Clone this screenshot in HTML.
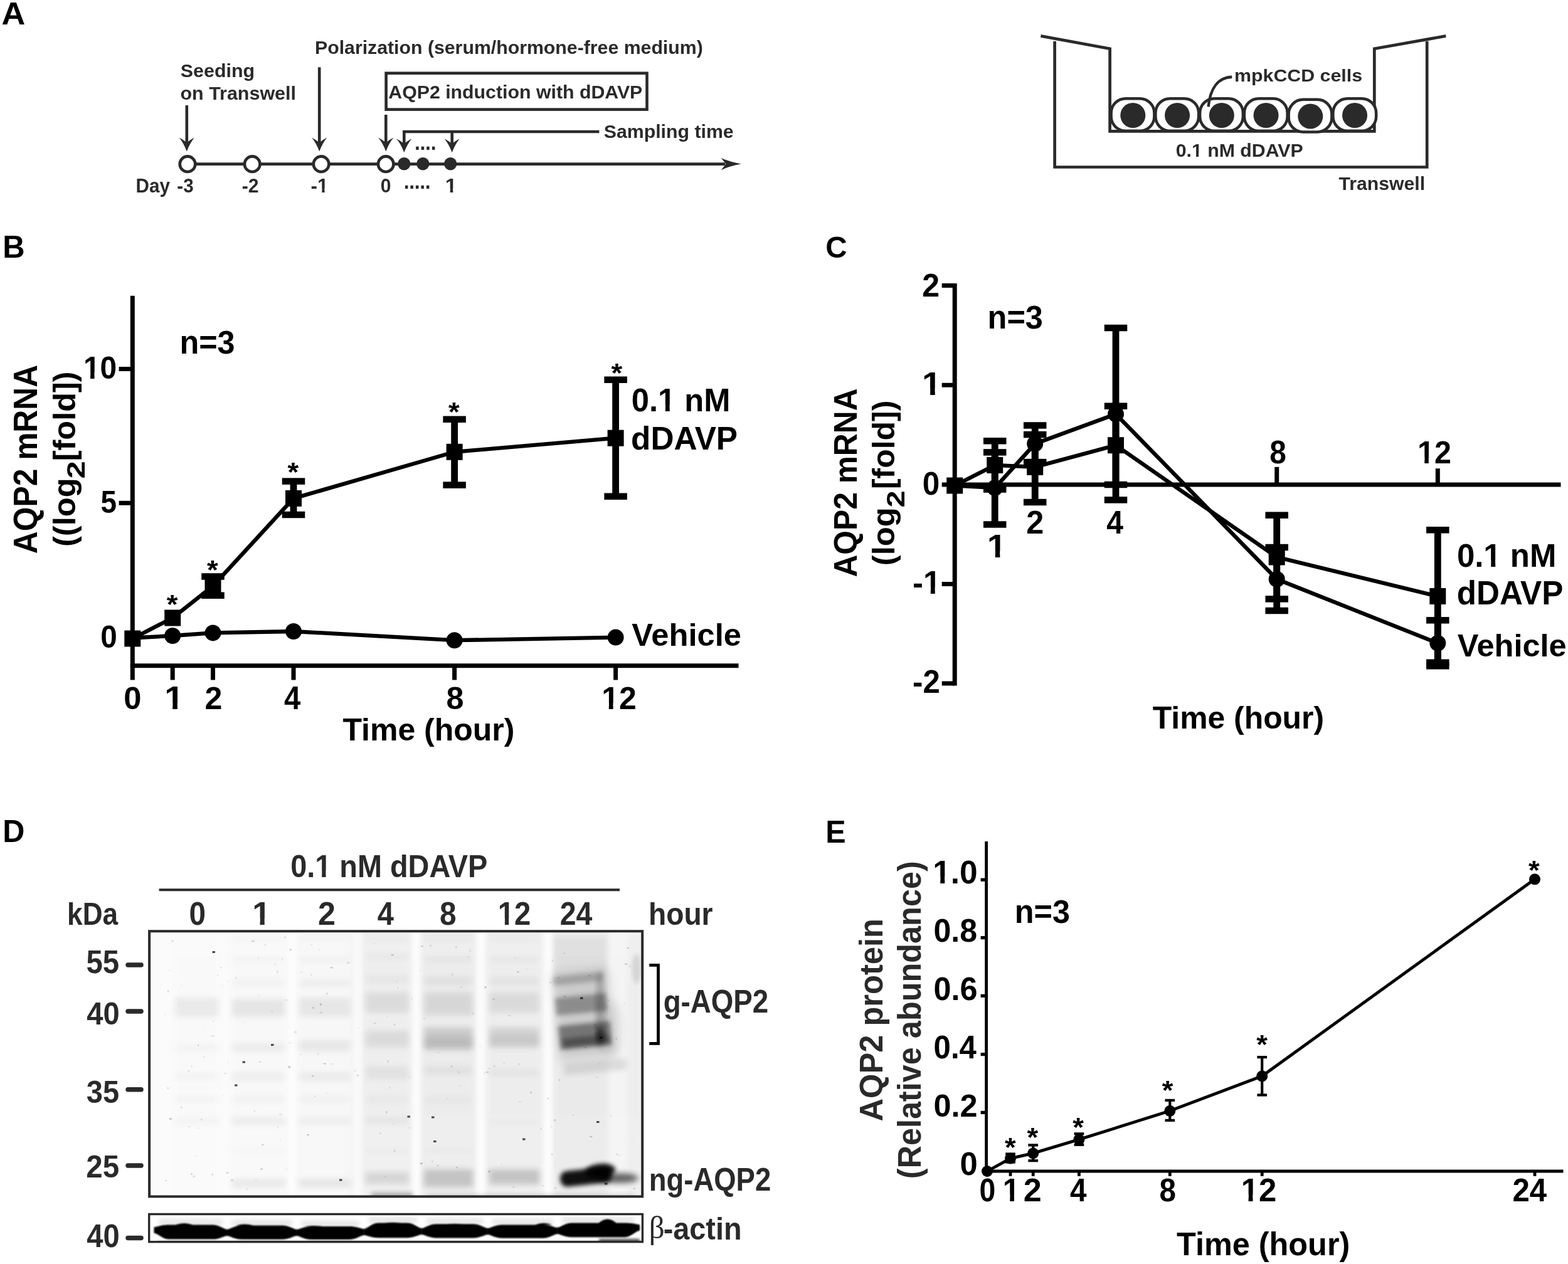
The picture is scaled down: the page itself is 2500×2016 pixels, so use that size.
<!DOCTYPE html>
<html lang="en">
<head>
<meta charset="utf-8">
<title>AQP2 induction time course with dDAVP in mpkCCD cells</title>
<style>
html,body{margin:0;padding:0;background:#fff;}
body{width:2500px;height:2016px;overflow:hidden;font-family:'Liberation Sans', Arial, Helvetica, sans-serif;}
svg{display:block;}
text{white-space:pre;}
</style>
</head>
<body>
<svg xmlns="http://www.w3.org/2000/svg" width="2500" height="2016" viewBox="0 0 2500 2016">
<rect x="0" y="0" width="2500" height="2016" fill="#fff"/>
<defs>
<filter id="b1" x="-5%" y="-30%" width="110%" height="160%"><feGaussianBlur stdDeviation="1.1"/></filter>
<filter id="b2" x="-20%" y="-50%" width="140%" height="200%"><feGaussianBlur stdDeviation="2"/></filter>
<filter id="b3" x="-20%" y="-80%" width="140%" height="260%"><feGaussianBlur stdDeviation="3.5"/></filter>
<filter id="b5" x="-30%" y="-100%" width="160%" height="300%"><feGaussianBlur stdDeviation="5"/></filter>
<filter id="b8" x="-30%" y="-100%" width="160%" height="300%"><feGaussianBlur stdDeviation="8"/></filter>
<filter id="bv" x="-200%" y="-5%" width="500%" height="110%"><feGaussianBlur stdDeviation="5 2"/></filter>
<clipPath id="blotclip"><rect x="238" y="1485.2" width="786.2" height="423.2"/></clipPath>
<clipPath id="actclip"><rect x="237.6" y="1936.5" width="786.8" height="44.2"/></clipPath>
</defs>
<text transform="translate(2.60,39.00) scale(1.0343,1)" font-family="'Liberation Sans', Arial, Helvetica, sans-serif" font-weight="bold" font-size="50.58" fill="#000">A</text>
<text transform="translate(4.22,410.90) scale(0.9834,1)" font-family="'Liberation Sans', Arial, Helvetica, sans-serif" font-weight="bold" font-size="49.86" fill="#000">B</text>
<text transform="translate(1316.15,410.82) scale(0.9706,1)" font-family="'Liberation Sans', Arial, Helvetica, sans-serif" font-weight="bold" font-size="49.01" fill="#000">C</text>
<text transform="translate(4.15,1343.30) scale(0.9634,1)" font-family="'Liberation Sans', Arial, Helvetica, sans-serif" font-weight="bold" font-size="50.44" fill="#000">D</text>
<text transform="translate(1316.36,1343.70) scale(0.9612,1)" font-family="'Liberation Sans', Arial, Helvetica, sans-serif" font-weight="bold" font-size="50.44" fill="#000">E</text>
<line x1="299" y1="261.6" x2="1156" y2="261.6" stroke="#2a2a2a" stroke-width="4.6" stroke-linecap="butt"/>
<path d="M1181.6,261.6 Q1164,258.40000000000003 1149.6,252.00000000000003 Q1154.5,257.6 1157.2,261.6 Q1154.5,265.6 1149.6,271.20000000000005 Q1164,264.8 1181.6,261.6 Z" fill="#2a2a2a"/>
<circle cx="299.00" cy="261.70" r="12.30" fill="#fff" stroke="#2a2a2a" stroke-width="4.6"/>
<circle cx="402.20" cy="261.70" r="12.30" fill="#fff" stroke="#2a2a2a" stroke-width="4.6"/>
<circle cx="512.10" cy="261.70" r="12.30" fill="#fff" stroke="#2a2a2a" stroke-width="4.6"/>
<circle cx="615.20" cy="261.70" r="12.30" fill="#fff" stroke="#2a2a2a" stroke-width="4.6"/>
<circle cx="644.30" cy="261.20" r="10.20" fill="#2a2a2a"/>
<circle cx="674.30" cy="261.20" r="10.20" fill="#2a2a2a"/>
<circle cx="718.20" cy="261.20" r="10.20" fill="#2a2a2a"/>
<line x1="297.8" y1="168" x2="297.8" y2="229.6" stroke="#2a2a2a" stroke-width="4.6" stroke-linecap="butt"/>
<path d="M297.80,241.60 Q292.68,227.96 285.60,219.60 Q292.92,223.20 297.80,227.60 Q302.68,223.20 310.00,219.60 Q302.92,227.96 297.80,241.60 Z" fill="#2a2a2a"/>
<line x1="509.2" y1="107.3" x2="509.2" y2="229.6" stroke="#2a2a2a" stroke-width="4.6" stroke-linecap="butt"/>
<path d="M509.20,241.60 Q504.08,227.96 497.00,219.60 Q504.32,223.20 509.20,227.60 Q514.08,223.20 521.40,219.60 Q514.32,227.96 509.20,241.60 Z" fill="#2a2a2a"/>
<line x1="615.3" y1="183" x2="615.3" y2="229.6" stroke="#2a2a2a" stroke-width="4.6" stroke-linecap="butt"/>
<path d="M615.30,241.60 Q610.18,227.96 603.10,219.60 Q610.42,223.20 615.30,227.60 Q620.18,223.20 627.50,219.60 Q620.42,227.96 615.30,241.60 Z" fill="#2a2a2a"/>
<line x1="644.3" y1="210" x2="644.3" y2="231.2" stroke="#2a2a2a" stroke-width="4.6" stroke-linecap="butt"/>
<path d="M644.30,243.20 Q639.18,229.56 632.10,221.20 Q639.42,224.80 644.30,229.20 Q649.18,224.80 656.50,221.20 Q649.42,229.56 644.30,243.20 Z" fill="#2a2a2a"/>
<line x1="720.7" y1="210" x2="720.7" y2="231.2" stroke="#2a2a2a" stroke-width="4.6" stroke-linecap="butt"/>
<path d="M720.70,243.20 Q715.58,229.56 708.50,221.20 Q715.82,224.80 720.70,229.20 Q725.58,224.80 732.90,221.20 Q725.82,229.56 720.70,243.20 Z" fill="#2a2a2a"/>
<line x1="642.0" y1="210" x2="955.4" y2="210" stroke="#2a2a2a" stroke-width="4.6" stroke-linecap="butt"/>
<rect x="615.60" y="116.70" width="415.90" height="57.90" fill="none" stroke="#2a2a2a" stroke-width="4.6" />
<text transform="translate(501.97,85.50) scale(1.0018,1)" font-family="'Liberation Sans', Arial, Helvetica, sans-serif" font-weight="bold" font-size="30.22" fill="#2a2a2a">Polarization (serum/hormone-free medium)</text>
<text transform="translate(287.82,123.20) scale(1.0299,1)" font-family="'Liberation Sans', Arial, Helvetica, sans-serif" font-weight="bold" font-size="29.53" fill="#2a2a2a">Seeding</text>
<text transform="translate(287.51,159.30) scale(1.0122,1)" font-family="'Liberation Sans', Arial, Helvetica, sans-serif" font-weight="bold" font-size="30.09" fill="#2a2a2a">on Transwell</text>
<text transform="translate(619.25,157.40) scale(1.0073,1)" font-family="'Liberation Sans', Arial, Helvetica, sans-serif" font-weight="bold" font-size="30.09" fill="#2a2a2a">AQP2 induction with dDAVP</text>
<text transform="translate(962.73,219.80) scale(1.0208,1)" font-family="'Liberation Sans', Arial, Helvetica, sans-serif" font-weight="bold" font-size="29.67" fill="#2a2a2a">Sampling time</text>
<text transform="translate(216.51,306.80) scale(0.9497,1)" font-family="'Liberation Sans', Arial, Helvetica, sans-serif" font-weight="bold" font-size="31.25" fill="#2a2a2a">Day</text>
<text transform="translate(282.34,306.65) scale(0.9592,1)" font-family="'Liberation Sans', Arial, Helvetica, sans-serif" font-weight="bold" font-size="30.87" fill="#2a2a2a">-3</text>
<text transform="translate(385.72,306.80) scale(0.9692,1)" font-family="'Liberation Sans', Arial, Helvetica, sans-serif" font-weight="bold" font-size="31.08" fill="#2a2a2a">-2</text>
<g transform="translate(495.58,306.80) scale(0.9923,1)"><text font-family="'Liberation Sans', Arial, Helvetica, sans-serif" font-weight="bold" font-size="31.54" fill="#2a2a2a">-1</text><rect x="11.45" y="-6.31" width="6.42" height="7.89" fill="#fff"/><rect x="22.16" y="-6.31" width="6.01" height="7.89" fill="#fff"/></g>
<text transform="translate(606.71,306.70) scale(0.9721,1)" font-family="'Liberation Sans', Arial, Helvetica, sans-serif" font-weight="bold" font-size="30.93" fill="#2a2a2a">0</text>
<g transform="translate(709.77,306.80) scale(1.0719,1)"><text font-family="'Liberation Sans', Arial, Helvetica, sans-serif" font-weight="bold" font-size="31.54" fill="#2a2a2a">1</text><rect x="0.95" y="-6.31" width="6.42" height="7.89" fill="#fff"/><rect x="11.65" y="-6.31" width="6.01" height="7.89" fill="#fff"/></g>
<text transform="translate(661.04,239.40) scale(0.9133,1)" font-family="'Liberation Sans', Arial, Helvetica, sans-serif" font-weight="bold" font-size="34.92" fill="#2a2a2a">.</text>
<text transform="translate(669.57,239.40) scale(0.9133,1)" font-family="'Liberation Sans', Arial, Helvetica, sans-serif" font-weight="bold" font-size="34.92" fill="#2a2a2a">.</text>
<text transform="translate(678.10,239.40) scale(0.9133,1)" font-family="'Liberation Sans', Arial, Helvetica, sans-serif" font-weight="bold" font-size="34.92" fill="#2a2a2a">.</text>
<text transform="translate(686.64,239.40) scale(0.9133,1)" font-family="'Liberation Sans', Arial, Helvetica, sans-serif" font-weight="bold" font-size="34.92" fill="#2a2a2a">.</text>
<text transform="translate(643.74,301.40) scale(0.9133,1)" font-family="'Liberation Sans', Arial, Helvetica, sans-serif" font-weight="bold" font-size="34.92" fill="#2a2a2a">.</text>
<text transform="translate(652.26,301.40) scale(0.9133,1)" font-family="'Liberation Sans', Arial, Helvetica, sans-serif" font-weight="bold" font-size="34.92" fill="#2a2a2a">.</text>
<text transform="translate(660.79,301.40) scale(0.9133,1)" font-family="'Liberation Sans', Arial, Helvetica, sans-serif" font-weight="bold" font-size="34.92" fill="#2a2a2a">.</text>
<text transform="translate(669.31,301.40) scale(0.9133,1)" font-family="'Liberation Sans', Arial, Helvetica, sans-serif" font-weight="bold" font-size="34.92" fill="#2a2a2a">.</text>
<text transform="translate(677.84,301.40) scale(0.9133,1)" font-family="'Liberation Sans', Arial, Helvetica, sans-serif" font-weight="bold" font-size="34.92" fill="#2a2a2a">.</text>
<polyline points="1681.60,65.80 1681.60,266.50 2275.20,266.50 2275.20,65.80" fill="none" stroke="#2a2a2a" stroke-width="4.7" stroke-linejoin="miter"/>
<polyline points="1659.40,57.40 1769.60,77.80 1769.60,209.30 2191.30,209.30 2191.30,77.80 2305.30,57.40" fill="none" stroke="#2a2a2a" stroke-width="4.7" stroke-linejoin="miter"/>
<rect x="1771.60" y="157.20" width="68.80" height="51.60" fill="#fff" stroke="#2a2a2a" stroke-width="4.5" rx="23" />
<circle cx="1806.30" cy="184.00" r="20.00" fill="#2a2a2a"/>
<rect x="1842.35" y="157.20" width="68.80" height="51.60" fill="#fff" stroke="#2a2a2a" stroke-width="4.5" rx="23" />
<circle cx="1877.05" cy="184.00" r="20.00" fill="#2a2a2a"/>
<rect x="1913.10" y="157.20" width="68.80" height="51.60" fill="#fff" stroke="#2a2a2a" stroke-width="4.5" rx="23" />
<circle cx="1947.80" cy="184.00" r="20.00" fill="#2a2a2a"/>
<rect x="1983.85" y="157.20" width="68.80" height="51.60" fill="#fff" stroke="#2a2a2a" stroke-width="4.5" rx="23" />
<circle cx="2018.55" cy="184.00" r="20.00" fill="#2a2a2a"/>
<rect x="2054.60" y="158.80" width="68.80" height="51.60" fill="#fff" stroke="#2a2a2a" stroke-width="4.5" rx="23" />
<circle cx="2089.30" cy="185.60" r="20.00" fill="#2a2a2a"/>
<rect x="2125.35" y="157.20" width="68.80" height="51.60" fill="#fff" stroke="#2a2a2a" stroke-width="4.5" rx="23" />
<circle cx="2160.05" cy="184.00" r="20.00" fill="#2a2a2a"/>
<path d="M1964.2,122.8 C1942,123.5 1929.5,141 1926.6,170.2" fill="none" stroke="#2a2a2a" stroke-width="4.4"/>
<text transform="translate(1968.00,130.30) scale(1.0627,1)" font-family="'Liberation Sans', Arial, Helvetica, sans-serif" font-weight="bold" font-size="28.57" fill="#2a2a2a">mpkCCD cells</text>
<g transform="translate(1874.70,249.50) scale(1.0159,1)"><text font-family="'Liberation Sans', Arial, Helvetica, sans-serif" font-weight="bold" font-size="29.81" fill="#2a2a2a">0.1 nM dDAVP</text><rect x="25.75" y="-5.96" width="6.07" height="7.45" fill="#fff"/><rect x="35.87" y="-5.96" width="5.68" height="7.45" fill="#fff"/></g>
<text transform="translate(2134.56,303.40) scale(1.0508,1)" font-family="'Liberation Sans', Arial, Helvetica, sans-serif" font-weight="bold" font-size="28.71" fill="#2a2a2a">Transwell</text>
<line x1="211.3" y1="471.7" x2="211.3" y2="1084.5" stroke="#000" stroke-width="7.0" stroke-linecap="butt"/>
<line x1="207.8" y1="1061.8" x2="1177.5" y2="1061.8" stroke="#000" stroke-width="7.0" stroke-linecap="butt"/>
<line x1="189.6" y1="588.5" x2="211.3" y2="588.5" stroke="#000" stroke-width="7.0" stroke-linecap="butt"/>
<line x1="189.6" y1="802.3" x2="211.3" y2="802.3" stroke="#000" stroke-width="7.0" stroke-linecap="butt"/>
<line x1="275.2" y1="1061.8" x2="275.2" y2="1084.5" stroke="#000" stroke-width="7.0" stroke-linecap="butt"/>
<line x1="339.5" y1="1061.8" x2="339.5" y2="1084.5" stroke="#000" stroke-width="7.0" stroke-linecap="butt"/>
<line x1="468.0" y1="1061.8" x2="468.0" y2="1084.5" stroke="#000" stroke-width="7.0" stroke-linecap="butt"/>
<line x1="724.6" y1="1061.8" x2="724.6" y2="1084.5" stroke="#000" stroke-width="7.0" stroke-linecap="butt"/>
<line x1="981.6" y1="1061.8" x2="981.6" y2="1084.5" stroke="#000" stroke-width="7.0" stroke-linecap="butt"/>
<polyline points="211.30,1017.50 275.20,1014.00 339.50,1009.40 468.00,1007.00 724.60,1021.20 981.60,1016.60" fill="none" stroke="#000" stroke-width="6.3" stroke-linejoin="miter"/>
<polyline points="211.30,1018.50 275.20,985.50 339.50,934.60 468.00,794.90 724.60,720.80 981.60,698.70" fill="none" stroke="#000" stroke-width="6.3" stroke-linejoin="miter"/>
<circle cx="275.20" cy="1014.00" r="13.00" fill="#000"/>
<circle cx="339.50" cy="1009.40" r="13.00" fill="#000"/>
<circle cx="468.00" cy="1007.00" r="13.00" fill="#000"/>
<circle cx="724.60" cy="1021.20" r="13.00" fill="#000"/>
<circle cx="981.60" cy="1016.60" r="13.00" fill="#000"/>
<rect x="334.10" y="919.50" width="10.80" height="30.20" fill="#000" />
<rect x="321.25" y="914.25" width="36.50" height="10.50" fill="#000" />
<rect x="321.25" y="944.45" width="36.50" height="10.50" fill="#000" />
<rect x="462.60" y="767.60" width="10.80" height="53.40" fill="#000" />
<rect x="449.75" y="762.35" width="36.50" height="10.50" fill="#000" />
<rect x="449.75" y="815.75" width="36.50" height="10.50" fill="#000" />
<rect x="719.20" y="668.80" width="10.80" height="104.80" fill="#000" />
<rect x="706.35" y="663.55" width="36.50" height="10.50" fill="#000" />
<rect x="706.35" y="768.35" width="36.50" height="10.50" fill="#000" />
<rect x="976.20" y="605.70" width="10.80" height="186.00" fill="#000" />
<rect x="963.35" y="600.45" width="36.50" height="10.50" fill="#000" />
<rect x="963.35" y="786.45" width="36.50" height="10.50" fill="#000" />
<rect x="198.30" y="1005.50" width="26.00" height="26.00" fill="#000" />
<rect x="262.20" y="972.50" width="26.00" height="26.00" fill="#000" />
<rect x="326.50" y="921.60" width="26.00" height="26.00" fill="#000" />
<rect x="455.00" y="781.90" width="26.00" height="26.00" fill="#000" />
<rect x="711.60" y="707.80" width="26.00" height="26.00" fill="#000" />
<rect x="968.60" y="685.70" width="26.00" height="26.00" fill="#000" />
<text transform="translate(265.82,978.02) scale(1.0498,1)" font-family="'Liberation Sans', Arial, Helvetica, sans-serif" font-weight="bold" font-size="43.27" fill="#000">*</text>
<text transform="translate(330.02,922.72) scale(1.0498,1)" font-family="'Liberation Sans', Arial, Helvetica, sans-serif" font-weight="bold" font-size="43.27" fill="#000">*</text>
<text transform="translate(458.42,767.12) scale(1.0498,1)" font-family="'Liberation Sans', Arial, Helvetica, sans-serif" font-weight="bold" font-size="43.27" fill="#000">*</text>
<text transform="translate(715.12,671.32) scale(1.0498,1)" font-family="'Liberation Sans', Arial, Helvetica, sans-serif" font-weight="bold" font-size="43.27" fill="#000">*</text>
<text transform="translate(974.62,609.02) scale(1.0498,1)" font-family="'Liberation Sans', Arial, Helvetica, sans-serif" font-weight="bold" font-size="43.27" fill="#000">*</text>
<g transform="translate(132.88,604.01) scale(0.9608,1)"><text font-family="'Liberation Sans', Arial, Helvetica, sans-serif" font-weight="bold" font-size="49.86" fill="#000">10</text><rect x="1.50" y="-9.97" width="10.15" height="12.46" fill="#fff"/><rect x="18.42" y="-9.97" width="9.50" height="12.46" fill="#fff"/></g>
<text transform="translate(160.59,818.41) scale(0.9214,1)" font-family="'Liberation Sans', Arial, Helvetica, sans-serif" font-weight="bold" font-size="49.73" fill="#000">5</text>
<text transform="translate(160.21,1032.52) scale(0.9655,1)" font-family="'Liberation Sans', Arial, Helvetica, sans-serif" font-weight="bold" font-size="49.43" fill="#000">0</text>
<text transform="translate(197.30,1131.11) scale(1.0078,1)" font-family="'Liberation Sans', Arial, Helvetica, sans-serif" font-weight="bold" font-size="50.28" fill="#000">0</text>
<g transform="translate(262.18,1131.10) scale(1.0960,1)"><text font-family="'Liberation Sans', Arial, Helvetica, sans-serif" font-weight="bold" font-size="51.02" fill="#000">1</text><rect x="1.53" y="-10.20" width="10.38" height="12.75" fill="#fff"/><rect x="18.85" y="-10.20" width="9.72" height="12.75" fill="#fff"/></g>
<text transform="translate(326.46,1131.10) scale(0.9958,1)" font-family="'Liberation Sans', Arial, Helvetica, sans-serif" font-weight="bold" font-size="50.27" fill="#000">2</text>
<text transform="translate(453.09,1131.10) scale(0.9258,1)" font-family="'Liberation Sans', Arial, Helvetica, sans-serif" font-weight="bold" font-size="51.02" fill="#000">4</text>
<text transform="translate(711.61,1131.11) scale(0.9991,1)" font-family="'Liberation Sans', Arial, Helvetica, sans-serif" font-weight="bold" font-size="50.28" fill="#000">8</text>
<g transform="translate(959.15,1131.10) scale(0.9934,1)"><text font-family="'Liberation Sans', Arial, Helvetica, sans-serif" font-weight="bold" font-size="50.27" fill="#000">12</text><rect x="1.51" y="-10.05" width="10.23" height="12.57" fill="#fff"/><rect x="18.57" y="-10.05" width="9.58" height="12.57" fill="#fff"/></g>
<text transform="translate(546.44,1181.40) scale(1.0035,1)" font-family="'Liberation Sans', Arial, Helvetica, sans-serif" font-weight="bold" font-size="49.82" fill="#000">Time (hour)</text>
<text transform="translate(286.38,564.41) scale(0.9637,1)" font-family="'Liberation Sans', Arial, Helvetica, sans-serif" font-weight="bold" font-size="52.29" fill="#000">n=3</text>
<g transform="translate(1006.80,656.49) scale(0.9613,1)"><text font-family="'Liberation Sans', Arial, Helvetica, sans-serif" font-weight="bold" font-size="52.68" fill="#000">0.1 nM</text><rect x="45.52" y="-10.54" width="10.72" height="13.17" fill="#fff"/><rect x="63.40" y="-10.54" width="10.04" height="13.17" fill="#fff"/></g>
<text transform="translate(1006.10,716.60) scale(0.9744,1)" font-family="'Liberation Sans', Arial, Helvetica, sans-serif" font-weight="bold" font-size="52.62" fill="#000">dDAVP</text>
<text transform="translate(1007.25,1030.40) scale(0.9985,1)" font-family="'Liberation Sans', Arial, Helvetica, sans-serif" font-weight="bold" font-size="50.79" fill="#000">Vehicle</text>
<text transform="translate(59.40,883.14) rotate(-90) scale(0.9415,1)" font-family="'Liberation Sans', Arial, Helvetica, sans-serif" font-weight="bold" font-size="52.85" fill="#000">AQP2 mRNA</text>
<text transform="translate(119.50,872.02) rotate(-90) scale(1.0141,1)" font-family="'Liberation Sans', Arial, Helvetica, sans-serif" font-weight="bold" font-size="49.96" fill="#000">((log</text>
<text transform="translate(135.20,763.56) rotate(-90) scale(1.2511,1)" font-family="'Liberation Sans', Arial, Helvetica, sans-serif" font-weight="bold" font-size="40.67" fill="#000">2</text>
<text transform="translate(119.50,735.23) rotate(-90) scale(1.0098,1)" font-family="'Liberation Sans', Arial, Helvetica, sans-serif" font-weight="bold" font-size="49.96" fill="#000">[fold])</text>
<line x1="1522.2" y1="451.9" x2="1522.2" y2="1093.5" stroke="#000" stroke-width="7.0" stroke-linecap="butt"/>
<line x1="1501.7" y1="773.0" x2="2488.5" y2="773.0" stroke="#000" stroke-width="7.0" stroke-linecap="butt"/>
<line x1="1501.7" y1="455.4" x2="1522.2" y2="455.4" stroke="#000" stroke-width="7.0" stroke-linecap="butt"/>
<line x1="1501.7" y1="614.2" x2="1522.2" y2="614.2" stroke="#000" stroke-width="7.0" stroke-linecap="butt"/>
<line x1="1501.7" y1="931.5" x2="1522.2" y2="931.5" stroke="#000" stroke-width="7.0" stroke-linecap="butt"/>
<line x1="1501.7" y1="1090.0" x2="1522.2" y2="1090.0" stroke="#000" stroke-width="7.0" stroke-linecap="butt"/>
<line x1="2035.7" y1="744.8" x2="2035.7" y2="773.0" stroke="#000" stroke-width="7.0" stroke-linecap="butt"/>
<line x1="2292.3" y1="747.2" x2="2292.3" y2="773.0" stroke="#000" stroke-width="7.0" stroke-linecap="butt"/>
<polyline points="1522.20,774.50 1586.20,778.10 1650.20,707.80 1779.00,660.40 2035.70,923.80 2292.30,1025.80" fill="none" stroke="#000" stroke-width="6.3" stroke-linejoin="miter"/>
<polyline points="1522.20,774.50 1586.20,741.90 1650.20,744.90 1779.00,710.20 2035.70,888.50 2292.30,951.00" fill="none" stroke="#000" stroke-width="6.3" stroke-linejoin="miter"/>
<rect x="1580.80" y="703.30" width="10.80" height="77.20" fill="#000" />
<rect x="1567.95" y="698.05" width="36.50" height="10.50" fill="#000" />
<rect x="1567.95" y="775.25" width="36.50" height="10.50" fill="#000" />
<rect x="1644.80" y="693.10" width="10.80" height="107.90" fill="#000" />
<rect x="1631.95" y="687.85" width="36.50" height="10.50" fill="#000" />
<rect x="1631.95" y="795.75" width="36.50" height="10.50" fill="#000" />
<rect x="1773.60" y="647.70" width="10.80" height="125.30" fill="#000" />
<rect x="1760.75" y="642.45" width="36.50" height="10.50" fill="#000" />
<rect x="1760.75" y="767.75" width="36.50" height="10.50" fill="#000" />
<rect x="2030.30" y="821.70" width="10.80" height="133.70" fill="#000" />
<rect x="2017.45" y="816.45" width="36.50" height="10.50" fill="#000" />
<rect x="2017.45" y="950.15" width="36.50" height="10.50" fill="#000" />
<rect x="2286.90" y="845.30" width="10.80" height="211.40" fill="#000" />
<rect x="2274.05" y="840.05" width="36.50" height="10.50" fill="#000" />
<rect x="2274.05" y="1051.45" width="36.50" height="10.50" fill="#000" />
<rect x="1580.80" y="721.40" width="10.80" height="115.10" fill="#000" />
<rect x="1567.95" y="716.15" width="36.50" height="10.50" fill="#000" />
<rect x="1567.95" y="831.25" width="36.50" height="10.50" fill="#000" />
<rect x="1644.80" y="678.50" width="10.80" height="58.60" fill="#000" />
<rect x="1631.95" y="673.25" width="36.50" height="10.50" fill="#000" />
<rect x="1631.95" y="731.85" width="36.50" height="10.50" fill="#000" />
<rect x="1773.60" y="523.00" width="10.80" height="274.40" fill="#000" />
<rect x="1760.75" y="517.75" width="36.50" height="10.50" fill="#000" />
<rect x="1760.75" y="792.15" width="36.50" height="10.50" fill="#000" />
<rect x="2030.30" y="873.00" width="10.80" height="101.00" fill="#000" />
<rect x="2017.45" y="867.75" width="36.50" height="10.50" fill="#000" />
<rect x="2017.45" y="968.75" width="36.50" height="10.50" fill="#000" />
<rect x="2286.90" y="989.30" width="10.80" height="73.00" fill="#000" />
<rect x="2274.05" y="984.05" width="36.50" height="10.50" fill="#000" />
<rect x="2274.05" y="1057.05" width="36.50" height="10.50" fill="#000" />
<circle cx="1586.20" cy="778.10" r="13.00" fill="#000"/>
<circle cx="1650.20" cy="707.80" r="13.00" fill="#000"/>
<circle cx="1779.00" cy="660.40" r="13.00" fill="#000"/>
<circle cx="2035.70" cy="923.80" r="13.00" fill="#000"/>
<circle cx="2292.30" cy="1025.80" r="13.00" fill="#000"/>
<rect x="1509.20" y="761.50" width="26.00" height="26.00" fill="#000" />
<rect x="1573.20" y="728.90" width="26.00" height="26.00" fill="#000" />
<rect x="1637.20" y="731.90" width="26.00" height="26.00" fill="#000" />
<rect x="1766.00" y="697.20" width="26.00" height="26.00" fill="#000" />
<rect x="2022.70" y="875.50" width="26.00" height="26.00" fill="#000" />
<rect x="2279.30" y="938.00" width="26.00" height="26.00" fill="#000" />
<text transform="translate(1470.36,472.50) scale(0.9682,1)" font-family="'Liberation Sans', Arial, Helvetica, sans-serif" font-weight="bold" font-size="51.70" fill="#000">2</text>
<g transform="translate(1470.08,629.60) scale(1.0656,1)"><text font-family="'Liberation Sans', Arial, Helvetica, sans-serif" font-weight="bold" font-size="52.47" fill="#000">1</text><rect x="1.57" y="-10.49" width="10.68" height="13.12" fill="#fff"/><rect x="19.39" y="-10.49" width="10.00" height="13.12" fill="#fff"/></g>
<text transform="translate(1470.75,788.99) scale(0.9507,1)" font-family="'Liberation Sans', Arial, Helvetica, sans-serif" font-weight="bold" font-size="51.98" fill="#000">0</text>
<g transform="translate(1455.01,947.20) scale(0.9693,1)"><text font-family="'Liberation Sans', Arial, Helvetica, sans-serif" font-weight="bold" font-size="52.47" fill="#000">-1</text><rect x="19.05" y="-10.49" width="10.68" height="13.12" fill="#fff"/><rect x="36.86" y="-10.49" width="10.00" height="13.12" fill="#fff"/></g>
<text transform="translate(1455.08,1105.40) scale(0.9556,1)" font-family="'Liberation Sans', Arial, Helvetica, sans-serif" font-weight="bold" font-size="51.41" fill="#000">-2</text>
<g transform="translate(1573.68,889.00) scale(1.0627,1)"><text font-family="'Liberation Sans', Arial, Helvetica, sans-serif" font-weight="bold" font-size="52.62" fill="#000">1</text><rect x="1.58" y="-10.52" width="10.71" height="13.15" fill="#fff"/><rect x="19.44" y="-10.52" width="10.02" height="13.15" fill="#fff"/></g>
<text transform="translate(1636.36,851.20) scale(0.9859,1)" font-family="'Liberation Sans', Arial, Helvetica, sans-serif" font-weight="bold" font-size="50.99" fill="#000">2</text>
<text transform="translate(1764.17,851.20) scale(0.9272,1)" font-family="'Liberation Sans', Arial, Helvetica, sans-serif" font-weight="bold" font-size="51.75" fill="#000">4</text>
<text transform="translate(2024.18,739.10) scale(0.9350,1)" font-family="'Liberation Sans', Arial, Helvetica, sans-serif" font-weight="bold" font-size="51.13" fill="#000">8</text>
<g transform="translate(2259.95,739.20) scale(0.9557,1)"><text font-family="'Liberation Sans', Arial, Helvetica, sans-serif" font-weight="bold" font-size="50.70" fill="#000">12</text><rect x="1.52" y="-10.14" width="10.32" height="12.67" fill="#fff"/><rect x="18.73" y="-10.14" width="9.66" height="12.67" fill="#fff"/></g>
<text transform="translate(1574.57,523.51) scale(0.9623,1)" font-family="'Liberation Sans', Arial, Helvetica, sans-serif" font-weight="bold" font-size="52.43" fill="#000">n=3</text>
<text transform="translate(1837.74,1162.40) scale(0.9903,1)" font-family="'Liberation Sans', Arial, Helvetica, sans-serif" font-weight="bold" font-size="50.37" fill="#000">Time (hour)</text>
<g transform="translate(2322.89,903.99) scale(0.9748,1)"><text font-family="'Liberation Sans', Arial, Helvetica, sans-serif" font-weight="bold" font-size="52.26" fill="#000">0.1 nM</text><rect x="45.15" y="-10.45" width="10.63" height="13.06" fill="#fff"/><rect x="62.89" y="-10.45" width="9.96" height="13.06" fill="#fff"/></g>
<text transform="translate(2322.80,964.30) scale(0.9641,1)" font-family="'Liberation Sans', Arial, Helvetica, sans-serif" font-weight="bold" font-size="53.05" fill="#000">dDAVP</text>
<text transform="translate(2323.65,1046.60) scale(1.0053,1)" font-family="'Liberation Sans', Arial, Helvetica, sans-serif" font-weight="bold" font-size="50.23" fill="#000">Vehicle</text>
<text transform="translate(1365.80,920.54) rotate(-90) scale(0.9437,1)" font-family="'Liberation Sans', Arial, Helvetica, sans-serif" font-weight="bold" font-size="52.70" fill="#000">AQP2 mRNA</text>
<text transform="translate(1426.00,902.23) rotate(-90) scale(1.0023,1)" font-family="'Liberation Sans', Arial, Helvetica, sans-serif" font-weight="bold" font-size="50.65" fill="#000">(log</text>
<text transform="translate(1441.60,809.39) rotate(-90) scale(1.2001,1)" font-family="'Liberation Sans', Arial, Helvetica, sans-serif" font-weight="bold" font-size="40.67" fill="#000">2</text>
<text transform="translate(1426.00,780.11) rotate(-90) scale(0.9866,1)" font-family="'Liberation Sans', Arial, Helvetica, sans-serif" font-weight="bold" font-size="50.65" fill="#000">[fold])</text>
<line x1="1572.6" y1="1341.9" x2="1572.6" y2="1870.4" stroke="#000" stroke-width="4.8" stroke-linecap="butt"/>
<line x1="1570.1999999999998" y1="1868.0" x2="2492.5" y2="1868.0" stroke="#000" stroke-width="4.8" stroke-linecap="butt"/>
<line x1="1563.6" y1="1403.2" x2="1572.6" y2="1403.2" stroke="#000" stroke-width="5.2" stroke-linecap="butt"/>
<line x1="1563.6" y1="1495.6" x2="1572.6" y2="1495.6" stroke="#000" stroke-width="5.2" stroke-linecap="butt"/>
<line x1="1563.6" y1="1588.3" x2="1572.6" y2="1588.3" stroke="#000" stroke-width="5.2" stroke-linecap="butt"/>
<line x1="1563.6" y1="1681.6" x2="1572.6" y2="1681.6" stroke="#000" stroke-width="5.2" stroke-linecap="butt"/>
<line x1="1563.6" y1="1774.4" x2="1572.6" y2="1774.4" stroke="#000" stroke-width="5.2" stroke-linecap="butt"/>
<line x1="1611.0" y1="1868.0" x2="1611.0" y2="1875.8" stroke="#000" stroke-width="4.8" stroke-linecap="butt"/>
<line x1="1647.2" y1="1868.0" x2="1647.2" y2="1875.8" stroke="#000" stroke-width="4.8" stroke-linecap="butt"/>
<line x1="1720.4" y1="1868.0" x2="1720.4" y2="1875.8" stroke="#000" stroke-width="4.8" stroke-linecap="butt"/>
<line x1="1865.3" y1="1868.0" x2="1865.3" y2="1875.8" stroke="#000" stroke-width="4.8" stroke-linecap="butt"/>
<line x1="2012.2" y1="1868.0" x2="2012.2" y2="1875.8" stroke="#000" stroke-width="4.8" stroke-linecap="butt"/>
<line x1="2447.0" y1="1868.0" x2="2447.0" y2="1875.8" stroke="#000" stroke-width="4.8" stroke-linecap="butt"/>
<polyline points="1574.00,1868.00 1611.00,1847.60 1647.20,1839.40 1720.40,1817.40 1865.30,1771.80 2012.20,1716.30 2447.00,1402.30" fill="none" stroke="#000" stroke-width="4.8" stroke-linejoin="miter"/>
<rect x="1608.90" y="1840.50" width="4.20" height="13.00" fill="#000" />
<rect x="1603.15" y="1838.40" width="15.70" height="4.20" fill="#000" />
<rect x="1603.15" y="1851.40" width="15.70" height="4.20" fill="#000" />
<rect x="1645.10" y="1826.40" width="4.20" height="24.80" fill="#000" />
<rect x="1639.35" y="1824.30" width="15.70" height="4.20" fill="#000" />
<rect x="1639.35" y="1849.10" width="15.70" height="4.20" fill="#000" />
<rect x="1718.30" y="1808.30" width="4.20" height="17.50" fill="#000" />
<rect x="1712.55" y="1806.20" width="15.70" height="4.20" fill="#000" />
<rect x="1712.55" y="1823.70" width="15.70" height="4.20" fill="#000" />
<rect x="1863.20" y="1754.90" width="4.20" height="32.00" fill="#000" />
<rect x="1857.45" y="1752.80" width="15.70" height="4.20" fill="#000" />
<rect x="1857.45" y="1784.80" width="15.70" height="4.20" fill="#000" />
<rect x="2010.10" y="1686.10" width="4.20" height="60.40" fill="#000" />
<rect x="2004.35" y="1684.00" width="15.70" height="4.20" fill="#000" />
<rect x="2004.35" y="1744.40" width="15.70" height="4.20" fill="#000" />
<circle cx="1574.00" cy="1868.00" r="9.00" fill="#000"/>
<circle cx="1611.00" cy="1847.60" r="9.00" fill="#000"/>
<circle cx="1647.20" cy="1839.40" r="9.00" fill="#000"/>
<circle cx="1720.40" cy="1817.40" r="9.00" fill="#000"/>
<circle cx="1865.30" cy="1771.80" r="9.00" fill="#000"/>
<circle cx="2012.20" cy="1716.30" r="9.00" fill="#000"/>
<circle cx="2447.00" cy="1402.30" r="9.00" fill="#000"/>
<text transform="translate(1602.12,1844.12) scale(1.0498,1)" font-family="'Liberation Sans', Arial, Helvetica, sans-serif" font-weight="bold" font-size="43.27" fill="#000">*</text>
<text transform="translate(1637.62,1828.12) scale(1.0498,1)" font-family="'Liberation Sans', Arial, Helvetica, sans-serif" font-weight="bold" font-size="43.27" fill="#000">*</text>
<text transform="translate(1710.32,1811.52) scale(1.0498,1)" font-family="'Liberation Sans', Arial, Helvetica, sans-serif" font-weight="bold" font-size="43.27" fill="#000">*</text>
<text transform="translate(1852.72,1752.62) scale(1.0498,1)" font-family="'Liberation Sans', Arial, Helvetica, sans-serif" font-weight="bold" font-size="43.27" fill="#000">*</text>
<text transform="translate(2003.17,1679.52) scale(1.0498,1)" font-family="'Liberation Sans', Arial, Helvetica, sans-serif" font-weight="bold" font-size="43.27" fill="#000">*</text>
<text transform="translate(2436.92,1401.52) scale(1.0498,1)" font-family="'Liberation Sans', Arial, Helvetica, sans-serif" font-weight="bold" font-size="43.27" fill="#000">*</text>
<g transform="translate(1487.26,1408.50) scale(0.9997,1)"><text font-family="'Liberation Sans', Arial, Helvetica, sans-serif" font-weight="bold" font-size="51.41" fill="#000">1.0</text><rect x="1.54" y="-10.28" width="10.46" height="12.85" fill="#fff"/><rect x="19.00" y="-10.28" width="9.79" height="12.85" fill="#fff"/></g>
<text transform="translate(1488.52,1501.50) scale(0.9741,1)" font-family="'Liberation Sans', Arial, Helvetica, sans-serif" font-weight="bold" font-size="51.41" fill="#000">0.8</text>
<text transform="translate(1488.51,1594.80) scale(0.9781,1)" font-family="'Liberation Sans', Arial, Helvetica, sans-serif" font-weight="bold" font-size="51.41" fill="#000">0.6</text>
<text transform="translate(1488.56,1687.70) scale(0.9611,1)" font-family="'Liberation Sans', Arial, Helvetica, sans-serif" font-weight="bold" font-size="51.13" fill="#000">0.4</text>
<text transform="translate(1488.51,1781.00) scale(0.9920,1)" font-family="'Liberation Sans', Arial, Helvetica, sans-serif" font-weight="bold" font-size="50.84" fill="#000">0.2</text>
<text transform="translate(1530.50,1874.30) scale(0.9857,1)" font-family="'Liberation Sans', Arial, Helvetica, sans-serif" font-weight="bold" font-size="51.41" fill="#000">0</text>
<text transform="translate(1561.47,1915.50) scale(0.8949,1)" font-family="'Liberation Sans', Arial, Helvetica, sans-serif" font-weight="bold" font-size="51.69" fill="#000">0</text>
<g transform="translate(1598.81,1915.50) scale(0.9355,1)"><text font-family="'Liberation Sans', Arial, Helvetica, sans-serif" font-weight="bold" font-size="52.47" fill="#000">1</text><rect x="1.57" y="-10.49" width="10.68" height="13.12" fill="#fff"/><rect x="19.39" y="-10.49" width="10.00" height="13.12" fill="#fff"/></g>
<text transform="translate(1631.79,1915.50) scale(1.0084,1)" font-family="'Liberation Sans', Arial, Helvetica, sans-serif" font-weight="bold" font-size="51.70" fill="#000">2</text>
<text transform="translate(1705.98,1915.50) scale(0.9108,1)" font-family="'Liberation Sans', Arial, Helvetica, sans-serif" font-weight="bold" font-size="52.47" fill="#000">4</text>
<text transform="translate(1848.59,1915.50) scale(0.9209,1)" font-family="'Liberation Sans', Arial, Helvetica, sans-serif" font-weight="bold" font-size="51.69" fill="#000">8</text>
<g transform="translate(1978.69,1915.50) scale(0.9850,1)"><text font-family="'Liberation Sans', Arial, Helvetica, sans-serif" font-weight="bold" font-size="51.70" fill="#000">12</text><rect x="1.55" y="-10.34" width="10.52" height="12.93" fill="#fff"/><rect x="19.10" y="-10.34" width="9.85" height="12.93" fill="#fff"/></g>
<text transform="translate(2411.39,1915.50) scale(0.9524,1)" font-family="'Liberation Sans', Arial, Helvetica, sans-serif" font-weight="bold" font-size="51.70" fill="#000">24</text>
<text transform="translate(1876.03,2001.50) scale(0.9844,1)" font-family="'Liberation Sans', Arial, Helvetica, sans-serif" font-weight="bold" font-size="51.20" fill="#000">Time (hour)</text>
<text transform="translate(1617.78,1472.41) scale(0.9549,1)" font-family="'Liberation Sans', Arial, Helvetica, sans-serif" font-weight="bold" font-size="52.72" fill="#000">n=3</text>
<text transform="translate(1407.20,1788.46) rotate(-90) scale(0.9622,1)" font-family="'Liberation Sans', Arial, Helvetica, sans-serif" font-weight="bold" font-size="52.62" fill="#2a2a2a">AQP2 protein</text>
<text transform="translate(1467.50,1880.31) rotate(-90) scale(0.9821,1)" font-family="'Liberation Sans', Arial, Helvetica, sans-serif" font-weight="bold" font-size="51.34" fill="#2a2a2a">(Relative abundance)</text>
<g transform="translate(463.15,1398.70) scale(0.9379,1)"><text font-family="'Liberation Sans', Arial, Helvetica, sans-serif" font-weight="bold" font-size="49.96" fill="#2a2a2a">0.1 nM dDAVP</text><rect x="43.16" y="-9.99" width="10.17" height="12.49" fill="#fff"/><rect x="60.12" y="-9.99" width="9.52" height="12.49" fill="#fff"/></g>
<line x1="253.6" y1="1419.2" x2="988.0" y2="1419.2" stroke="#2a2a2a" stroke-width="4.0" stroke-linecap="butt"/>
<text transform="translate(107.12,1475.10) scale(0.8863,1)" font-family="'Liberation Sans', Arial, Helvetica, sans-serif" font-weight="bold" font-size="49.82" fill="#2a2a2a">kDa</text>
<text transform="translate(301.51,1474.70) scale(0.9335,1)" font-family="'Liberation Sans', Arial, Helvetica, sans-serif" font-weight="bold" font-size="51.13" fill="#2a2a2a">0</text>
<g transform="translate(402.16,1474.80) scale(1.0183,1)"><text font-family="'Liberation Sans', Arial, Helvetica, sans-serif" font-weight="bold" font-size="52.04" fill="#2a2a2a">1</text><rect x="1.56" y="-10.41" width="10.59" height="13.01" fill="#fff"/><rect x="19.23" y="-10.41" width="9.91" height="13.01" fill="#fff"/></g>
<text transform="translate(506.96,1474.80) scale(0.9804,1)" font-family="'Liberation Sans', Arial, Helvetica, sans-serif" font-weight="bold" font-size="51.27" fill="#2a2a2a">2</text>
<text transform="translate(601.69,1474.80) scale(0.9041,1)" font-family="'Liberation Sans', Arial, Helvetica, sans-serif" font-weight="bold" font-size="52.04" fill="#2a2a2a">4</text>
<text transform="translate(701.08,1474.70) scale(0.9350,1)" font-family="'Liberation Sans', Arial, Helvetica, sans-serif" font-weight="bold" font-size="51.13" fill="#2a2a2a">8</text>
<g transform="translate(793.82,1474.80) scale(0.9218,1)"><text font-family="'Liberation Sans', Arial, Helvetica, sans-serif" font-weight="bold" font-size="51.27" fill="#2a2a2a">12</text><rect x="1.54" y="-10.25" width="10.43" height="12.82" fill="#fff"/><rect x="18.94" y="-10.25" width="9.77" height="12.82" fill="#fff"/></g>
<text transform="translate(892.79,1474.80) scale(0.9058,1)" font-family="'Liberation Sans', Arial, Helvetica, sans-serif" font-weight="bold" font-size="51.27" fill="#2a2a2a">24</text>
<text transform="translate(1033.97,1474.80) scale(0.9221,1)" font-family="'Liberation Sans', Arial, Helvetica, sans-serif" font-weight="bold" font-size="50.10" fill="#2a2a2a">hour</text>
<text transform="translate(137.45,1551.50) scale(0.9263,1)" font-family="'Liberation Sans', Arial, Helvetica, sans-serif" font-weight="bold" font-size="51.02" fill="#2a2a2a">55</text>
<line x1="204.0" y1="1539.1" x2="225.0" y2="1539.1" stroke="#2a2a2a" stroke-width="7.5" stroke-linecap="round"/>
<text transform="translate(138.19,1633.71) scale(0.9351,1)" font-family="'Liberation Sans', Arial, Helvetica, sans-serif" font-weight="bold" font-size="50.42" fill="#2a2a2a">40</text>
<line x1="204.0" y1="1613.0" x2="225.0" y2="1613.0" stroke="#2a2a2a" stroke-width="7.5" stroke-linecap="round"/>
<text transform="translate(137.82,1758.94) scale(0.9402,1)" font-family="'Liberation Sans', Arial, Helvetica, sans-serif" font-weight="bold" font-size="49.90" fill="#2a2a2a">35</text>
<line x1="204.0" y1="1737.7" x2="225.0" y2="1737.7" stroke="#2a2a2a" stroke-width="7.5" stroke-linecap="round"/>
<text transform="translate(137.26,1877.91) scale(0.9488,1)" font-family="'Liberation Sans', Arial, Helvetica, sans-serif" font-weight="bold" font-size="50.00" fill="#2a2a2a">25</text>
<line x1="204.0" y1="1859.0" x2="225.0" y2="1859.0" stroke="#2a2a2a" stroke-width="7.5" stroke-linecap="round"/>
<text transform="translate(138.19,1989.00) scale(0.9197,1)" font-family="'Liberation Sans', Arial, Helvetica, sans-serif" font-weight="bold" font-size="51.27" fill="#2a2a2a">40</text>
<line x1="204.0" y1="1974.4" x2="225.0" y2="1974.4" stroke="#2a2a2a" stroke-width="7.5" stroke-linecap="round"/>
<polyline points="1035.20,1539.40 1049.50,1539.40 1049.50,1664.40 1035.20,1664.40" fill="none" stroke="#000" stroke-width="4.8" stroke-linejoin="miter"/>
<text transform="translate(1057.63,1614.60) scale(0.8792,1)" font-family="'Liberation Sans', Arial, Helvetica, sans-serif" font-weight="bold" font-size="51.99" fill="#2a2a2a">g-AQP2</text>
<text transform="translate(1034.80,1898.90) scale(0.8766,1)" font-family="'Liberation Sans', Arial, Helvetica, sans-serif" font-weight="bold" font-size="51.84" fill="#2a2a2a">ng-AQP2</text>
<text transform="translate(1034.64,1975.44) scale(0.9880,1)" font-family="'Liberation Serif', 'Times New Roman', serif" font-weight="normal" font-size="49.62" fill="#2a2a2a">β</text>
<text transform="translate(1057.67,1976.80) scale(0.9535,1)" font-family="'Liberation Sans', Arial, Helvetica, sans-serif" font-weight="bold" font-size="49.13" fill="#2a2a2a">-actin</text>
<g clip-path="url(#blotclip)">
<rect x="238.00" y="1485.00" width="787.00" height="424.00" fill="#fbfbfb" />
<rect x="272.6" y="1470" width="82.0" height="460" fill="#000" opacity="0.004" filter="url(#b5)"/>
<rect x="363.8" y="1470" width="97.19999999999999" height="460" fill="#000" opacity="0.008" filter="url(#b5)"/>
<rect x="470.3" y="1470" width="94.69999999999999" height="460" fill="#000" opacity="0.012" filter="url(#b5)"/>
<rect x="576.7" y="1470" width="81.29999999999995" height="460" fill="#000" opacity="0.02" filter="url(#b5)"/>
<rect x="670.0" y="1470" width="89.70000000000005" height="460" fill="#000" opacity="0.026" filter="url(#b5)"/>
<rect x="774.0" y="1470" width="92.0" height="460" fill="#000" opacity="0.024" filter="url(#b5)"/>
<rect x="880.4" y="1470" width="89.60000000000002" height="460" fill="#000" opacity="0.035" filter="url(#b5)"/>
<rect x="560" y="1470" width="480" height="460" fill="#000" opacity="0.025" filter="url(#b8)"/>
<rect x="460.5" y="1470" width="10" height="460" fill="#fff" opacity="0.5" filter="url(#bv)"/>
<rect x="565.5" y="1470" width="10" height="460" fill="#fff" opacity="0.6" filter="url(#bv)"/>
<rect x="658.5" y="1470" width="10" height="460" fill="#fff" opacity="0.9" filter="url(#bv)"/>
<rect x="761.5" y="1470" width="10" height="460" fill="#fff" opacity="0.95" filter="url(#bv)"/>
<rect x="869.0" y="1470" width="10" height="460" fill="#fff" opacity="0.95" filter="url(#bv)"/>
<rect x="278.6" y="1591.0" width="70.0" height="31.0" fill="#000" opacity="0.057" filter="url(#b5)"/>
<rect x="278.6" y="1664" width="70.0" height="14" fill="#000" opacity="0.021" filter="url(#b5)"/>
<rect x="278.6" y="1710" width="70.0" height="14" fill="#000" opacity="0.021" filter="url(#b5)"/>
<rect x="278.6" y="1747" width="70.0" height="12" fill="#000" opacity="0.021" filter="url(#b5)"/>
<rect x="278.6" y="1781" width="70.0" height="14" fill="#000" opacity="0.023" filter="url(#b5)"/>
<rect x="369.8" y="1492" width="85.19999999999999" height="10" fill="#000" opacity="0.014" filter="url(#b5)"/>
<rect x="369.8" y="1525" width="85.19999999999999" height="10" fill="#000" opacity="0.017" filter="url(#b5)"/>
<rect x="369.8" y="1562" width="85.19999999999999" height="12" fill="#000" opacity="0.023" filter="url(#b5)"/>
<rect x="369.8" y="1593.0" width="85.19999999999999" height="29.0" fill="#000" opacity="0.069" filter="url(#b5)"/>
<rect x="369.8" y="1664" width="85.19999999999999" height="14" fill="#000" opacity="0.046" filter="url(#b5)"/>
<rect x="369.8" y="1710" width="85.19999999999999" height="14" fill="#000" opacity="0.040" filter="url(#b5)"/>
<rect x="369.8" y="1747" width="85.19999999999999" height="12" fill="#000" opacity="0.023" filter="url(#b5)"/>
<rect x="369.8" y="1781" width="85.19999999999999" height="14" fill="#000" opacity="0.046" filter="url(#b5)"/>
<rect x="369.8" y="1831" width="85.19999999999999" height="8" fill="#000" opacity="0.014" filter="url(#b5)"/>
<rect x="369.8" y="1880" width="85.19999999999999" height="14" fill="#000" opacity="0.063" filter="url(#b5)"/>
<rect x="476.3" y="1492" width="82.69999999999999" height="10" fill="#000" opacity="0.017" filter="url(#b5)"/>
<rect x="476.3" y="1525" width="82.69999999999999" height="10" fill="#000" opacity="0.023" filter="url(#b5)"/>
<rect x="476.3" y="1562" width="82.69999999999999" height="12" fill="#000" opacity="0.034" filter="url(#b5)"/>
<rect x="476.3" y="1591.0" width="82.69999999999999" height="31.0" fill="#000" opacity="0.063" filter="url(#b5)"/>
<rect x="476.3" y="1659" width="82.69999999999999" height="18" fill="#000" opacity="0.057" filter="url(#b5)"/>
<rect x="476.3" y="1710" width="82.69999999999999" height="14" fill="#000" opacity="0.046" filter="url(#b5)"/>
<rect x="476.3" y="1747" width="82.69999999999999" height="12" fill="#000" opacity="0.023" filter="url(#b5)"/>
<rect x="476.3" y="1781" width="82.69999999999999" height="14" fill="#000" opacity="0.034" filter="url(#b5)"/>
<rect x="476.3" y="1880" width="82.69999999999999" height="14" fill="#000" opacity="0.075" filter="url(#b5)"/>
<rect x="582.7" y="1492" width="69.29999999999995" height="10" fill="#000" opacity="0.022" filter="url(#b5)"/>
<rect x="582.7" y="1520" width="69.29999999999995" height="10" fill="#000" opacity="0.026" filter="url(#b5)"/>
<rect x="582.7" y="1556" width="69.29999999999995" height="12" fill="#000" opacity="0.035" filter="url(#b5)"/>
<rect x="582.7" y="1583" width="69.29999999999995" height="32" fill="#000" opacity="0.075" filter="url(#b5)"/>
<rect x="582.7" y="1644" width="69.29999999999995" height="26" fill="#000" opacity="0.079" filter="url(#b5)"/>
<rect x="582.7" y="1700" width="69.29999999999995" height="22" fill="#000" opacity="0.048" filter="url(#b5)"/>
<rect x="582.7" y="1747" width="69.29999999999995" height="12" fill="#000" opacity="0.022" filter="url(#b5)"/>
<rect x="582.7" y="1781" width="69.29999999999995" height="12" fill="#000" opacity="0.044" filter="url(#b5)"/>
<rect x="582.7" y="1832" width="69.29999999999995" height="8" fill="#000" opacity="0.018" filter="url(#b5)"/>
<rect x="582.7" y="1869.5" width="69.29999999999995" height="19.0" fill="#000" opacity="0.106" filter="url(#b5)"/>
<rect x="676.0" y="1492" width="77.70000000000005" height="10" fill="#000" opacity="0.018" filter="url(#b5)"/>
<rect x="676.0" y="1525" width="77.70000000000005" height="10" fill="#000" opacity="0.026" filter="url(#b5)"/>
<rect x="676.0" y="1558" width="77.70000000000005" height="14" fill="#000" opacity="0.048" filter="url(#b5)"/>
<rect x="676.0" y="1583" width="77.70000000000005" height="36" fill="#000" opacity="0.088" filter="url(#b5)"/>
<rect x="676.0" y="1639" width="77.70000000000005" height="36" fill="#000" opacity="0.141" filter="url(#b5)"/>
<rect x="676.0" y="1654" width="77.70000000000005" height="16" fill="#000" opacity="0.070" filter="url(#b5)"/>
<rect x="676.0" y="1700" width="77.70000000000005" height="14" fill="#000" opacity="0.044" filter="url(#b5)"/>
<rect x="676.0" y="1749" width="77.70000000000005" height="12" fill="#000" opacity="0.018" filter="url(#b5)"/>
<rect x="676.0" y="1832" width="77.70000000000005" height="6" fill="#000" opacity="0.026" filter="url(#b5)"/>
<rect x="676.0" y="1865" width="77.70000000000005" height="28" fill="#000" opacity="0.176" filter="url(#b5)"/>
<rect x="780.0" y="1492" width="80.0" height="10" fill="#000" opacity="0.018" filter="url(#b5)"/>
<rect x="780.0" y="1525" width="80.0" height="10" fill="#000" opacity="0.022" filter="url(#b5)"/>
<rect x="780.0" y="1558" width="80.0" height="14" fill="#000" opacity="0.040" filter="url(#b5)"/>
<rect x="780.0" y="1583" width="80.0" height="32" fill="#000" opacity="0.075" filter="url(#b5)"/>
<rect x="780.0" y="1639" width="80.0" height="32" fill="#000" opacity="0.114" filter="url(#b5)"/>
<rect x="780.0" y="1652" width="80.0" height="14" fill="#000" opacity="0.044" filter="url(#b5)"/>
<rect x="780.0" y="1705" width="80.0" height="12" fill="#000" opacity="0.035" filter="url(#b5)"/>
<rect x="780.0" y="1786" width="80.0" height="8" fill="#000" opacity="0.018" filter="url(#b5)"/>
<rect x="780.0" y="1865" width="80.0" height="24" fill="#000" opacity="0.176" filter="url(#b5)"/>
<rect x="883.4" y="1495" width="83.60000000000002" height="60" fill="#000" opacity="0.05" filter="url(#b5)"/>
<g transform="rotate(-5.5 925.2 1610)">
<rect x="885.4" y="1548" width="89.60000000000002" height="140" fill="#000" opacity="0.13" filter="url(#b8)"/>
<rect x="886.4" y="1554" width="79.60000000000002" height="14" fill="#000" opacity="0.2" filter="url(#b3)"/>
<rect x="886.4" y="1588" width="81.60000000000002" height="28" fill="#000" opacity="0.3" filter="url(#b3)"/>
<rect x="887.4" y="1633" width="82.60000000000002" height="38" fill="#000" opacity="0.42" filter="url(#b3)"/>
<rect x="892.4" y="1654" width="73.60000000000002" height="14" fill="#000" opacity="0.32" filter="url(#b3)"/>
<rect x="890.4" y="1694" width="99.60000000000002" height="18" fill="#000" opacity="0.1" filter="url(#b5)"/>
</g>
<ellipse cx="957" cy="1612" rx="7" ry="62" fill="#000" opacity="0.22" filter="url(#b5)"/>
<ellipse cx="957" cy="1651" rx="7" ry="12" fill="#000" opacity="0.45" filter="url(#b3)"/>
<ellipse cx="975" cy="1640" rx="16" ry="45" fill="#000" opacity="0.08" filter="url(#b8)"/>
<g transform="rotate(-6 940 1876)">
<rect x="893" y="1864" width="82" height="25" rx="11" fill="#000" opacity="0.93" filter="url(#b3)"/>
<ellipse cx="958" cy="1869" rx="24" ry="11" fill="#000" opacity="0.9" filter="url(#b3)"/>
</g>
<ellipse cx="986" cy="1879" rx="32" ry="8" fill="#000" opacity="0.6" filter="url(#b5)"/>
<rect x="592" y="1902" width="66" height="10" fill="#000" opacity="0.28" filter="url(#b3)"/>
<rect x="680" y="1904" width="330" height="8" fill="#000" opacity="0.10" filter="url(#b3)"/>
<ellipse cx="1015" cy="1545" rx="7" ry="24" fill="#000" opacity="0.10" filter="url(#b3)"/>
<rect x="1000" y="1490" width="30" height="420" fill="#000" opacity="0.025" filter="url(#b5)"/>
<rect x="495.3" y="1553.8" width="2" height="2" fill="#000" opacity="0.15"/>
<rect x="879.8" y="1530.6" width="2" height="3" fill="#000" opacity="0.12"/>
<rect x="411.0" y="1527.2" width="2" height="2" fill="#000" opacity="0.1"/>
<rect x="315.1" y="1666.1" width="2" height="2" fill="#000" opacity="0.2"/>
<rect x="732.5" y="1731.0" width="4" height="2" fill="#000" opacity="0.05"/>
<rect x="999.6" y="1511.1" width="3" height="2" fill="#000" opacity="0.2"/>
<rect x="569.0" y="1713.7" width="3" height="3" fill="#000" opacity="0.12"/>
<rect x="875.9" y="1566.1" width="3" height="2" fill="#000" opacity="0.12"/>
<rect x="320.3" y="1784.0" width="2" height="3" fill="#000" opacity="0.12"/>
<rect x="404.2" y="1771.0" width="3" height="2" fill="#000" opacity="0.1"/>
<rect x="697.6" y="1677.8" width="3" height="2" fill="#000" opacity="0.08"/>
<rect x="785.3" y="1592.1" width="3" height="3" fill="#000" opacity="0.12"/>
<rect x="627.7" y="1632.8" width="3" height="3" fill="#000" opacity="0.1"/>
<rect x="1002.7" y="1540.4" width="3" height="2" fill="#000" opacity="0.1"/>
<rect x="362.5" y="1692.5" width="2" height="3" fill="#000" opacity="0.05"/>
<rect x="687.9" y="1850.9" width="3" height="3" fill="#000" opacity="0.08"/>
<rect x="515.7" y="1695.6" width="4" height="2" fill="#000" opacity="0.2"/>
<rect x="894.3" y="1879.3" width="2" height="2" fill="#000" opacity="0.1"/>
<rect x="810.2" y="1618.9" width="4" height="2" fill="#000" opacity="0.12"/>
<rect x="799.0" y="1855.7" width="2" height="2" fill="#000" opacity="0.08"/>
<rect x="519.8" y="1742.5" width="2" height="2" fill="#000" opacity="0.1"/>
<rect x="838.8" y="1545.0" width="4" height="2" fill="#000" opacity="0.06"/>
<rect x="953.7" y="1695.6" width="4" height="2" fill="#000" opacity="0.06"/>
<rect x="669.7" y="1854.2" width="4" height="3" fill="#000" opacity="0.2"/>
<rect x="460.2" y="1662.3" width="4" height="2" fill="#000" opacity="0.08"/>
<rect x="361.7" y="1564.2" width="3" height="2" fill="#000" opacity="0.06"/>
<rect x="619.9" y="1733.5" width="3" height="2" fill="#000" opacity="0.08"/>
<rect x="357.6" y="1711.2" width="3" height="2" fill="#000" opacity="0.12"/>
<rect x="778.8" y="1703.4" width="2" height="2" fill="#000" opacity="0.12"/>
<rect x="940.3" y="1811.8" width="4" height="2" fill="#000" opacity="0.2"/>
<rect x="553.4" y="1534.5" width="4" height="2" fill="#000" opacity="0.15"/>
<rect x="392.3" y="1895.7" width="3" height="2" fill="#000" opacity="0.1"/>
<rect x="507.9" y="1513.6" width="3" height="3" fill="#000" opacity="0.05"/>
<rect x="323.4" y="1641.1" width="2" height="2" fill="#000" opacity="0.05"/>
<rect x="719.7" y="1552.9" width="3" height="3" fill="#000" opacity="0.08"/>
<rect x="526.5" y="1542.4" width="4" height="2" fill="#000" opacity="0.2"/>
<rect x="616.3" y="1619.9" width="2" height="3" fill="#000" opacity="0.06"/>
<rect x="509.9" y="1600.6" width="3" height="3" fill="#000" opacity="0.2"/>
<rect x="262.9" y="1881.9" width="3" height="2" fill="#000" opacity="0.12"/>
<rect x="778.4" y="1866.8" width="3" height="3" fill="#000" opacity="0.2"/>
<rect x="912.4" y="1777.4" width="3" height="2" fill="#000" opacity="0.08"/>
<rect x="520.0" y="1583.3" width="3" height="3" fill="#000" opacity="0.12"/>
<rect x="417.4" y="1824.7" width="3" height="2" fill="#000" opacity="0.2"/>
<rect x="877.6" y="1795.3" width="3" height="3" fill="#000" opacity="0.06"/>
<rect x="625.9" y="1791.7" width="3" height="2" fill="#000" opacity="0.05"/>
<rect x="445.3" y="1775.9" width="4" height="3" fill="#000" opacity="0.08"/>
<rect x="1008.8" y="1883.6" width="2" height="2" fill="#000" opacity="0.08"/>
<rect x="324.0" y="1684.7" width="3" height="2" fill="#000" opacity="0.08"/>
<rect x="727.4" y="1861.1" width="2" height="2" fill="#000" opacity="0.2"/>
<rect x="947.8" y="1633.0" width="2" height="3" fill="#000" opacity="0.15"/>
<rect x="337.7" y="1651.3" width="3" height="2" fill="#000" opacity="0.15"/>
<rect x="932.2" y="1669.9" width="3" height="2" fill="#000" opacity="0.15"/>
<rect x="864.0" y="1890.4" width="4" height="2" fill="#000" opacity="0.1"/>
<rect x="819.6" y="1526.8" width="3" height="2" fill="#000" opacity="0.06"/>
<rect x="266.3" y="1734.2" width="3" height="3" fill="#000" opacity="0.1"/>
<rect x="883.9" y="1893.9" width="3" height="2" fill="#000" opacity="0.15"/>
<rect x="669.1" y="1545.7" width="2" height="3" fill="#000" opacity="0.05"/>
<rect x="824.4" y="1549.1" width="3" height="2" fill="#000" opacity="0.2"/>
<rect x="266.6" y="1579.2" width="3" height="3" fill="#000" opacity="0.12"/>
<rect x="497.0" y="1715.2" width="3" height="2" fill="#000" opacity="0.2"/>
<rect x="948.4" y="1637.1" width="4" height="3" fill="#000" opacity="0.1"/>
<rect x="346.1" y="1554.3" width="2" height="2" fill="#000" opacity="0.12"/>
<rect x="845.2" y="1741.5" width="3" height="2" fill="#000" opacity="0.2"/>
<rect x="354.4" y="1745.8" width="2" height="2" fill="#000" opacity="0.05"/>
<rect x="772.4" y="1709.6" width="2" height="3" fill="#000" opacity="0.1"/>
<rect x="288.9" y="1570.4" width="2" height="3" fill="#000" opacity="0.05"/>
<rect x="594.5" y="1503.4" width="4" height="2" fill="#000" opacity="0.05"/>
<rect x="718.5" y="1699.3" width="3" height="3" fill="#000" opacity="0.12"/>
<rect x="459.3" y="1700.3" width="4" height="3" fill="#000" opacity="0.2"/>
<rect x="972.8" y="1778.7" width="3" height="2" fill="#000" opacity="0.08"/>
<rect x="351.0" y="1541.9" width="3" height="2" fill="#000" opacity="0.1"/>
<rect x="763.8" y="1667.6" width="3" height="2" fill="#000" opacity="0.06"/>
<rect x="938.4" y="1555.3" width="3" height="2" fill="#000" opacity="0.15"/>
<rect x="440.7" y="1548.3" width="3" height="3" fill="#000" opacity="0.1"/>
<rect x="981.3" y="1655.3" width="3" height="3" fill="#000" opacity="0.1"/>
<rect x="888.5" y="1558.2" width="4" height="2" fill="#000" opacity="0.1"/>
<rect x="570.6" y="1638.2" width="3" height="2" fill="#000" opacity="0.05"/>
<rect x="506.3" y="1680.1" width="2" height="2" fill="#000" opacity="0.15"/>
<rect x="501.2" y="1747.8" width="2" height="2" fill="#000" opacity="0.12"/>
<rect x="1006.5" y="1815.2" width="2" height="2" fill="#000" opacity="0.05"/>
<rect x="455.2" y="1863.4" width="3" height="2" fill="#000" opacity="0.06"/>
<rect x="878.7" y="1840.3" width="3" height="2" fill="#000" opacity="0.15"/>
<rect x="360.5" y="1868.9" width="4" height="3" fill="#000" opacity="0.12"/>
<rect x="497.8" y="1606.4" width="3" height="2" fill="#000" opacity="0.2"/>
<rect x="937.1" y="1602.3" width="2" height="2" fill="#000" opacity="0.05"/>
<rect x="309.7" y="1843.1" width="3" height="2" fill="#000" opacity="0.05"/>
<rect x="595.8" y="1631.1" width="4" height="2" fill="#000" opacity="0.12"/>
<rect x="725.6" y="1509.7" width="3" height="2" fill="#000" opacity="0.15"/>
<rect x="994.2" y="1599.4" width="3" height="2" fill="#000" opacity="0.06"/>
<rect x="731.0" y="1709.7" width="3" height="2" fill="#000" opacity="0.06"/>
<rect x="631.6" y="1564.9" width="2" height="2" fill="#000" opacity="0.08"/>
<rect x="273.6" y="1499.6" width="3" height="3" fill="#000" opacity="0.12"/>
<rect x="612.0" y="1875.2" width="4" height="3" fill="#000" opacity="0.05"/>
<rect x="627.6" y="1834.2" width="3" height="3" fill="#000" opacity="0.1"/>
<rect x="411.3" y="1586.1" width="3" height="2" fill="#000" opacity="0.06"/>
<rect x="1009.8" y="1894.6" width="3" height="2" fill="#000" opacity="0.2"/>
<rect x="299.7" y="1795.8" width="4" height="2" fill="#000" opacity="0.08"/>
<rect x="287.8" y="1764.7" width="3" height="3" fill="#000" opacity="0.1"/>
<rect x="432.2" y="1612.2" width="3" height="2" fill="#000" opacity="0.1"/>
<rect x="453.0" y="1493.5" width="3" height="3" fill="#000" opacity="0.08"/>
<rect x="495.1" y="1506.1" width="3" height="2" fill="#000" opacity="0.08"/>
<rect x="386.4" y="1629.5" width="4" height="2" fill="#000" opacity="0.05"/>
<rect x="633.6" y="1574.4" width="2" height="2" fill="#000" opacity="0.12"/>
<rect x="449.2" y="1528.8" width="2" height="2" fill="#000" opacity="0.1"/>
<rect x="262.4" y="1616.7" width="2" height="3" fill="#000" opacity="0.06"/>
<rect x="985.3" y="1841.8" width="4" height="2" fill="#000" opacity="0.06"/>
<rect x="802.1" y="1694.6" width="3" height="2" fill="#000" opacity="0.08"/>
<rect x="882.6" y="1785.2" width="4" height="3" fill="#000" opacity="0.12"/>
<rect x="786.9" y="1699.3" width="2" height="3" fill="#000" opacity="0.12"/>
<rect x="696.5" y="1858.1" width="3" height="2" fill="#000" opacity="0.15"/>
<rect x="269.1" y="1546.6" width="2" height="2" fill="#000" opacity="0.08"/>
<rect x="891.1" y="1721.0" width="2" height="3" fill="#000" opacity="0.15"/>
<rect x="655.8" y="1592.3" width="2" height="2" fill="#000" opacity="0.08"/>
<rect x="861.6" y="1798.8" width="2" height="3" fill="#000" opacity="0.12"/>
<rect x="651.6" y="1797.7" width="3" height="2" fill="#000" opacity="0.1"/>
<rect x="899.1" y="1588.3" width="3" height="2" fill="#000" opacity="0.2"/>
<rect x="816.9" y="1892.1" width="4" height="2" fill="#000" opacity="0.1"/>
<rect x="615.3" y="1772.3" width="2" height="3" fill="#000" opacity="0.2"/>
<rect x="734.1" y="1573.3" width="3" height="2" fill="#000" opacity="0.12"/>
<rect x="441.3" y="1796.7" width="3" height="2" fill="#000" opacity="0.08"/>
<rect x="617.9" y="1691.2" width="2" height="3" fill="#000" opacity="0.15"/>
<rect x="413.3" y="1692.7" width="3" height="2" fill="#000" opacity="0.15"/>
<rect x="605.1" y="1806.5" width="3" height="2" fill="#000" opacity="0.12"/>
<rect x="1001.1" y="1875.9" width="3" height="2" fill="#000" opacity="0.05"/>
<rect x="304.1" y="1699.7" width="3" height="2" fill="#000" opacity="0.1"/>
<rect x="407.2" y="1879.7" width="2" height="3" fill="#000" opacity="0.06"/>
<rect x="314.8" y="1798.5" width="3" height="2" fill="#000" opacity="0.08"/>
<rect x="711.4" y="1751.0" width="2" height="3" fill="#000" opacity="0.08"/>
<rect x="527.3" y="1696.1" width="4" height="2" fill="#000" opacity="0.1"/>
<rect x="368.0" y="1881.5" width="4" height="2" fill="#000" opacity="0.15"/>
<rect x="478.4" y="1549.7" width="4" height="2" fill="#000" opacity="0.08"/>
<rect x="338.5" y="1627.8" width="3" height="2" fill="#000" opacity="0.08"/>
<rect x="337.8" y="1871.8" width="2" height="3" fill="#000" opacity="0.15"/>
<rect x="469.0" y="1644.6" width="4" height="3" fill="#000" opacity="0.1"/>
<rect x="304.1" y="1871.4" width="3" height="2" fill="#000" opacity="0.2"/>
<rect x="461.9" y="1513.2" width="3" height="3" fill="#000" opacity="0.15"/>
<rect x="968.2" y="1594.2" width="4" height="3" fill="#000" opacity="0.08"/>
<rect x="489.0" y="1809.0" width="4" height="2" fill="#000" opacity="0.2"/>
<rect x="872.6" y="1750.7" width="3" height="3" fill="#000" opacity="0.12"/>
<rect x="307.3" y="1874.7" width="4" height="3" fill="#000" opacity="0.1"/>
<rect x="826.8" y="1756.2" width="4" height="2" fill="#000" opacity="0.08"/>
<rect x="949.9" y="1717.5" width="4" height="2" fill="#000" opacity="0.06"/>
<rect x="510.7" y="1614.1" width="3" height="2" fill="#000" opacity="0.15"/>
<rect x="752.1" y="1615.3" width="4" height="2" fill="#000" opacity="0.12"/>
<rect x="374.3" y="1558.3" width="4" height="3" fill="#000" opacity="0.06"/>
<rect x="415.1" y="1863.6" width="4" height="2" fill="#000" opacity="0.2"/>
<rect x="352.9" y="1570.9" width="3" height="2" fill="#000" opacity="0.05"/>
<rect x="674.7" y="1622.9" width="3" height="3" fill="#000" opacity="0.08"/>
<rect x="401.3" y="1500.2" width="4" height="2" fill="#000" opacity="0.2"/>
<rect x="564.9" y="1706.9" width="3" height="2" fill="#000" opacity="0.1"/>
<rect x="826.4" y="1696.2" width="3" height="2" fill="#000" opacity="0.12"/>
<rect x="775.9" y="1709.0" width="3" height="2" fill="#000" opacity="0.2"/>
<rect x="454.5" y="1593.9" width="4" height="2" fill="#000" opacity="0.1"/>
<rect x="982.4" y="1840.0" width="2" height="2" fill="#000" opacity="0.2"/>
<rect x="269.9" y="1782.9" width="4" height="3" fill="#000" opacity="0.2"/>
<rect x="623.6" y="1522.0" width="4" height="2" fill="#000" opacity="0.2"/>
<rect x="437.1" y="1536.7" width="3" height="3" fill="#000" opacity="0.06"/>
<rect x="996.3" y="1536.6" width="4" height="2" fill="#000" opacity="0.2"/>
<rect x="671.3" y="1508.2" width="3" height="2" fill="#000" opacity="0.2"/>
<rect x="685.1" y="1507.4" width="3" height="2" fill="#000" opacity="0.15"/>
<rect x="729.3" y="1708.6" width="2" height="2" fill="#000" opacity="0.1"/>
<rect x="299.4" y="1707.0" width="3" height="2" fill="#000" opacity="0.12"/>
<rect x="446.7" y="1816.1" width="2" height="3" fill="#000" opacity="0.05"/>
<rect x="478.1" y="1680.9" width="3" height="2" fill="#000" opacity="0.08"/>
<rect x="651.8" y="1716.3" width="4" height="3" fill="#000" opacity="0.05"/>
<rect x="747.2" y="1514.7" width="4" height="3" fill="#000" opacity="0.06"/>
<rect x="745.3" y="1525.2" width="4" height="2" fill="#000" opacity="0.06"/>
<rect x="420.3" y="1506.0" width="4" height="2" fill="#000" opacity="0.08"/>
<rect x="772.6" y="1573.2" width="3" height="3" fill="#000" opacity="0.2"/>
<rect x="898.3" y="1519.6" width="3" height="2" fill="#000" opacity="0.1"/>
<rect x="338.5" y="1517.0" width="4.5" height="3" fill="#000" opacity="0.7"/>
<rect x="386.5" y="1692.5" width="4.5" height="3" fill="#000" opacity="0.7"/>
<rect x="432" y="1665.0" width="4.5" height="3" fill="#000" opacity="0.7"/>
<rect x="374" y="1729.5" width="4.5" height="3" fill="#000" opacity="0.7"/>
<rect x="541" y="1880.5" width="4.5" height="3" fill="#000" opacity="0.7"/>
<rect x="688" y="1780.5" width="4.5" height="3" fill="#000" opacity="0.7"/>
<rect x="833" y="1815.5" width="4.5" height="3" fill="#000" opacity="0.7"/>
<rect x="925" y="1590.5" width="4.5" height="3" fill="#000" opacity="0.7"/>
<rect x="951" y="1788.0" width="4.5" height="3" fill="#000" opacity="0.7"/>
<rect x="964" y="1886.5" width="4.5" height="3" fill="#000" opacity="0.7"/>
<rect x="956" y="1653.5" width="4.5" height="3" fill="#000" opacity="0.7"/>
<rect x="691" y="1819.0" width="4.5" height="3" fill="#000" opacity="0.7"/>
<rect x="649.5" y="1779.5" width="4.5" height="3" fill="#000" opacity="0.7"/>
</g>
<rect x="238.10" y="1485.20" width="786.10" height="423.20" fill="none" stroke="#2a2a2a" stroke-width="4.0" />
<g clip-path="url(#actclip)">
<rect x="237.00" y="1936.00" width="788.00" height="45.00" fill="#fff" />
<rect x="253.5" y="1944.6" width="101.5" height="9" fill="#000" opacity="0.10" filter="url(#b3)"/>
<rect x="369.0" y="1945.6" width="97.0" height="9" fill="#000" opacity="0.10" filter="url(#b3)"/>
<rect x="480.0" y="1947.0" width="93.0" height="9" fill="#000" opacity="0.10" filter="url(#b3)"/>
<rect x="587.5" y="1941.6" width="77.5" height="9" fill="#000" opacity="0.10" filter="url(#b3)"/>
<rect x="679.5" y="1943.2" width="91.0" height="9" fill="#000" opacity="0.10" filter="url(#b3)"/>
<rect x="784.5" y="1944.4" width="97.0" height="9" fill="#000" opacity="0.10" filter="url(#b3)"/>
<rect x="895.5" y="1941.5" width="116.5" height="9" fill="#000" opacity="0.10" filter="url(#b3)"/>
<path d="M245.5,1957.5 C253.5,1955.5 259.5,1953.6 269.5,1953.6 L279.6,1953.6 Q293.6,1948.4 307.6,1953.6 L339.0,1953.6 C349.0,1953.6 355.0,1959.5 363.0,1961.5 L363.0,1970.5 C355.0,1972.5 349.0,1976.6 339.0,1976.6 L269.5,1976.6 C259.5,1976.6 253.5,1968.5 245.5,1966.5 Z" fill="#000" filter="url(#b1)"/>
<path d="M361.0,1961.5 C369.0,1959.5 375.0,1954.6 385.0,1954.6 L376.0,1954.6 Q390.0,1950.2 404.0,1954.6 L450.0,1954.6 C460.0,1954.6 466.0,1959.5 474.0,1961.5 L474.0,1970.5 C466.0,1972.5 460.0,1976.8 450.0,1976.8 L385.0,1976.8 C375.0,1976.8 369.0,1972.5 361.0,1970.5 Z" fill="#000" filter="url(#b1)"/>
<path d="M472.0,1961.5 C480.0,1959.5 486.0,1956.0 496.0,1956.0 L486.0,1956.0 Q500.0,1954.0 514.0,1956.0 L557.0,1956.0 C567.0,1956.0 573.0,1958.5 581.0,1960.5 L581.0,1969.5 C573.0,1971.5 567.0,1977.0 557.0,1977.0 L496.0,1977.0 C486.0,1977.0 480.0,1972.5 472.0,1970.5 Z" fill="#000" filter="url(#b1)"/>
<path d="M579.5,1960.5 C587.5,1958.5 593.5,1950.6 603.5,1950.6 L612.0,1950.6 Q626.0,1949.0 640.0,1950.6 L649.0,1950.6 C659.0,1950.6 665.0,1957.5 673.0,1959.5 L673.0,1968.5 C665.0,1970.5 659.0,1974.2 649.0,1974.2 L603.5,1974.2 C593.5,1974.2 587.5,1971.5 579.5,1969.5 Z" fill="#000" filter="url(#b1)"/>
<path d="M671.5,1959.5 C679.5,1957.5 685.5,1952.2 695.5,1952.2 L711.0,1952.2 Q725.0,1951.2 739.0,1952.2 L754.5,1952.2 C764.5,1952.2 770.5,1957.5 778.5,1959.5 L778.5,1968.5 C770.5,1970.5 764.5,1974.4 754.5,1974.4 L695.5,1974.4 C685.5,1974.4 679.5,1970.5 671.5,1968.5 Z" fill="#000" filter="url(#b1)"/>
<path d="M776.5,1959.5 C784.5,1957.5 790.5,1953.4 800.5,1953.4 L853.0,1953.4 Q867.0,1948.2 881.0,1953.4 L865.5,1953.4 C875.5,1953.4 881.5,1956.5 889.5,1958.5 L889.5,1967.5 C881.5,1969.5 875.5,1974.8 865.5,1974.8 L800.5,1974.8 C790.5,1974.8 784.5,1970.5 776.5,1968.5 Z" fill="#000" filter="url(#b1)"/>
<path d="M887.5,1958.5 C895.5,1956.5 901.5,1950.5 911.5,1950.5 L954.6,1950.5 Q968.6,1938.5 982.6,1950.5 L996.0,1950.5 C1006.0,1950.5 1012.0,1951.5 1020.0,1953.5 L1020.0,1962.5 C1012.0,1964.5 1006.0,1973.2 996.0,1973.2 L911.5,1973.2 C901.5,1973.2 895.5,1969.5 887.5,1967.5 Z" fill="#000" filter="url(#b1)"/>
<rect x="250" y="1979.6" width="770" height="3" fill="#000" opacity="0.55" filter="url(#b1)"/>
<rect x="955" y="1976" width="65" height="6" fill="#000" opacity="0.7" filter="url(#b2)"/>
</g>
<rect x="237.70" y="1936.50" width="786.70" height="44.20" fill="none" stroke="#2a2a2a" stroke-width="3.4" />
</svg>
</body>
</html>
